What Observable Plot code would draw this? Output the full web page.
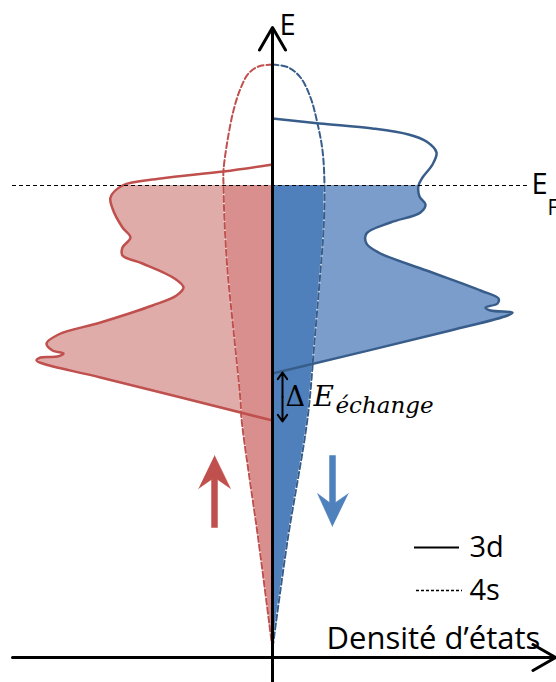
<!DOCTYPE html>
<html><head><meta charset="utf-8">
<script src="https://cdn.jsdelivr.net/npm/d3@7"></script>
<script src="https://cdn.jsdelivr.net/npm/@observablehq/plot@0.6"></script>
<style>html,body{margin:0;padding:0;background:#fff;} svg{display:block;}</style>
</head><body><div id="chart"></div>
<script>
// Energy of the Fermi level (arbitrary energy units, 0 = horizontal axis)
const E_F = 472;

// 3d band, spin up (density drawn to the left, negative)
const up3dE   = [493, 486, 479, 472, 460, 449, 430, 420, 410, 402, 394, 379, 370, 362, 352, 335, 323, 314, 307, 304, 301, 300, 297, 294, 280, 237];
const up3dDos = [0, -49, -112, -150, -162, -160, -150, -142, -150, -150, -130, -98, -89, -96, -120, -172, -214, -226, -220, -209, -215, -232, -236, -230, -172, 0];

// 3d band, spin down (density drawn to the right, positive)
const down3dE   = [539, 534, 529, 523, 516, 505, 493, 480, 472, 461, 453, 445, 435, 424, 414, 405, 387, 367, 359, 354, 350, 347, 345, 342, 327, 284];
const down3dDos = [0, 47, 100, 136, 154, 164, 160, 150, 146, 147, 153, 148, 118, 94, 94, 106, 154, 208, 226, 225, 213, 218, 240, 235, 178, 0];

// 4s band, spin up
const up4sE   = [593, 591, 584, 569, 547, 517, 487, 472, 437, 387, 327, 257, 239, 117, 9];
const up4sDos = [0, -14, -24, -32, -39, -45, -49, -49, -48, -45, -39, -32, -31, -14, 0];

// 4s band, spin down
const down4sE   = [593, 590, 580, 560, 534, 507, 472, 427, 387, 316, 239, 117, 9];
const down4sDos = [0, 16, 28, 38, 45, 50, 52, 51, 48, 42, 35, 15, 0];

// annotation shapes (dos, E)
const spinUpArrowDos = [-58, -42, -55, -55, -61, -61, -74];
const spinUpArrowE   = [202, 169, 178, 130, 130, 178, 169];
const spinDownArrowDos = [60, 45, 57, 57, 63, 63, 76];
const spinDownArrowE   = [131, 164, 155, 202, 202, 155, 164];

// legend
const legendLabels = ["3d", "4s"];
const legendE = [110, 67];

const rows = (E, dos) => E.map((e, i) => ({E: e, dos: dos[i]}));
const up3d = rows(up3dE, up3dDos);
const down3d = rows(down3dE, down3dDos);
const up4s = rows(up4sE, up4sDos);
const down4s = rows(down4sE, down4sDos);
const spinUpArrow = rows(spinUpArrowE, spinUpArrowDos);
const spinDownArrow = rows(spinDownArrowE, spinDownArrowDos);
const below = d => d.E <= E_F;

const RED = "#C0504D", BLUE_LINE = "#385D8A", BLUE = "#4F81BD";
const SANS = "Open Sans", SERIF = "DejaVu Serif";

const chart = Plot.plot({
  width: 556, height: 682, margin: 0,
  x: {domain: [-272, 284], axis: null},
  y: {domain: [-25, 657], axis: null},
  style: {background: "#fff"},
  marks: [
    // filled (occupied) 3d states
    Plot.areaX(up3d.filter(below), {y: "E", x1: 0, x2: "dos", curve: "catmull-rom", fill: "#E0ACAA"}),
    Plot.areaX(down3d.filter(below), {y: "E", x1: 0, x2: "dos", curve: "catmull-rom", fill: "#7A9DCB"}),
    // filled 4s states
    Plot.areaX(up4s.filter(below), {y: "E", x1: 0, x2: "dos", curve: "catmull-rom", fill: "#D98F8E"}),
    Plot.areaX(down4s.filter(below), {y: "E", x1: 0, x2: "dos", curve: "catmull-rom", fill: "#4F80BC"}),
    // 4s outlines
    Plot.line(up4s.filter(below), {x: "dos", y: "E", curve: "catmull-rom", stroke: "#fff", strokeWidth: 2, strokeOpacity: 0.7}),
    Plot.line(down4s.filter(below), {x: "dos", y: "E", curve: "catmull-rom", stroke: "#fff", strokeWidth: 2, strokeOpacity: 0.7}),
    Plot.line(up4s, {x: "dos", y: "E", curve: "catmull-rom", stroke: RED, strokeWidth: 2, strokeDasharray: "6,3"}),
    Plot.line(down4s, {x: "dos", y: "E", curve: "catmull-rom", stroke: BLUE_LINE, strokeWidth: 2, strokeDasharray: "6,3"}),
    // 3d outlines
    Plot.line(up3d, {x: "dos", y: "E", curve: "catmull-rom", stroke: RED, strokeWidth: 2.5}),
    Plot.line(down3d, {x: "dos", y: "E", curve: "catmull-rom", stroke: BLUE_LINE, strokeWidth: 2.5}),
    // Fermi level
    Plot.ruleY([E_F], {x1: -260, x2: 256, stroke: "#000", strokeWidth: 1, strokeDasharray: "4,3"}),
    // axes
    Plot.arrow([0], {x1: 0, y1: -25, x2: 0, y2: 630, stroke: "#000", strokeWidth: 3, headLength: 13}),
    Plot.arrow([0], {x1: -260, y1: 0, x2: 283, y2: 0, stroke: "#000", strokeWidth: 3, headLength: 13}),
    // exchange splitting arrow
    Plot.arrow([0], {x1: 10, y1: 260.5, x2: 10, y2: 285, stroke: "#000", strokeWidth: 2, headLength: 7, headAngle: 70}),
    Plot.arrow([0], {x1: 10, y1: 260.5, x2: 10, y2: 236, stroke: "#000", strokeWidth: 2, headLength: 7, headAngle: 70}),
    Plot.text(["Δ"], {x: 13, y: 252, text: d => d, textAnchor: "start", lineAnchor: "bottom", fontFamily: SERIF, fontSize: 27, fill: "#000"}),
    Plot.text(["E"], {x: 41, y: 252, text: d => d, textAnchor: "start", lineAnchor: "bottom", fontFamily: SERIF, fontStyle: "italic", fontSize: 28, fill: "#000"}),
    Plot.text(["échange"], {x: 63, y: 245, text: d => d, textAnchor: "start", lineAnchor: "bottom", fontFamily: SERIF, fontStyle: "italic", fontSize: 23, fill: "#000"}),
    // spin arrows
    Plot.line(spinUpArrow, {x: "dos", y: "E", curve: "linear", fill: RED, stroke: RED, strokeWidth: 0.5}),
    Plot.line(spinDownArrow, {x: "dos", y: "E", curve: "linear", fill: BLUE, stroke: BLUE, strokeWidth: 0.5}),
    // legend
    Plot.ruleY([legendE[0]], {x1: 142, x2: 187, stroke: "#000", strokeWidth: 2}),
    Plot.ruleY([legendE[1]], {x1: 144, x2: 190, stroke: "#000", strokeWidth: 1.5, strokeDasharray: "3,2"}),
    Plot.text(legendLabels, {x: 197, y: (d, i) => legendE[i], text: d => d, textAnchor: "start", lineAnchor: "middle", fontFamily: SANS, fontSize: 29, fill: "#000"}),
    // labels
    Plot.text(["E"], {x: 7, y: 623, text: d => d, textAnchor: "start", lineAnchor: "bottom", fontFamily: SANS, fontSize: 29, fill: "#000"}),
    Plot.text(["E"], {x: 259, y: 464, text: d => d, textAnchor: "start", lineAnchor: "bottom", fontFamily: SANS, fontSize: 29, fill: "#000"}),
    Plot.text(["F"], {x: 275, y: 443, text: d => d, textAnchor: "start", lineAnchor: "bottom", fontFamily: SANS, fontSize: 21, fill: "#000"}),
    Plot.text(["Densité d’états"], {x: 54, y: 9, text: d => d, textAnchor: "start", lineAnchor: "bottom", fontFamily: SANS, fontSize: 31, fill: "#000"})
  ]
});
document.getElementById("chart").append(chart);
</script>
</body></html>
